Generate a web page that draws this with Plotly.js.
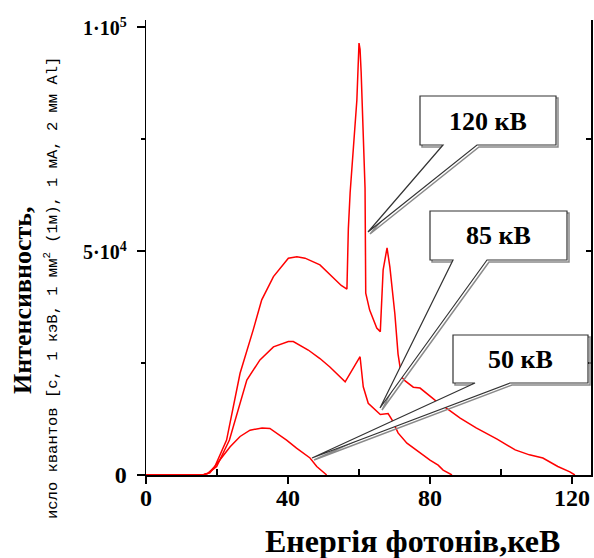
<!DOCTYPE html>
<html>
<head>
<meta charset="utf-8">
<script src="https://cdn.plot.ly/plotly-3.0.1.min.js"></script>
<style>html,body{margin:0;padding:0;background:#fff;}#chart{width:594px;height:558px;}</style>
</head>
<body>
<div id="chart"></div>
<script>
// ---- data (energy keV, intensity in thousands of quanta) ----
const e120 = [0, 16, 17.5, 19.4, 22.7, 26.5, 30.2, 32.6, 35.9, 40.1, 42.5, 44.8, 49, 52, 55, 56.6, 57, 57.5, 58.2, 58.9, 59.4, 60, 60.3, 60.6, 61.1, 61.7, 61.9, 63, 65, 66, 66.8, 67.9, 68.7, 70.1, 71, 72, 73, 75.3, 77.2, 81.4, 85, 88.5, 93, 98.9, 104, 108, 111.8, 116, 119.4, 120.8];
const i120 = [0, 0, 0.4, 1.9, 7.8, 22.7, 32.4, 39.1, 44.3, 48.4, 48.7, 48.4, 46.9, 44.5, 42.3, 41.5, 55, 63, 71, 77.7, 83.7, 96.4, 95, 90, 79, 64, 40.6, 36.8, 32.8, 32, 45.8, 50.7, 46.4, 36, 27, 21.9, 21, 19.6, 19.4, 16.7, 14.7, 12.7, 10.5, 8.0, 5.6, 4.5, 3.8, 1.9, 0.7, 0];
const e85 = [0, 16, 17.5, 19.9, 23.5, 28.4, 32.1, 35.9, 40.1, 41.5, 45.7, 49, 51.8, 56.1, 60.3, 61.2, 62.6, 66, 68.2, 69.3, 71, 73.5, 78, 80, 82.3, 83.7, 86.2];
const i85 = [0, 0, 0.4, 1.9, 7.8, 21.2, 25.7, 28.6, 29.8, 29.8, 27.9, 26, 24.1, 20.8, 26.4, 19.7, 16, 13.5, 13.7, 12.3, 9.4, 7.1, 4.5, 3.3, 2.2, 1.1, 0];
const e50 = [0, 16, 18, 19.9, 23.7, 26.5, 29.3, 32.7, 34.9, 39.6, 42.4, 46.2, 48.1, 50.9];
const i50 = [0, 0, 0.5, 2.5, 6.3, 8.6, 10, 10.5, 10.4, 7.8, 6, 3.8, 1.9, 0];
const seriesLabels = ['120 кВ', '85 кВ', '50 кВ'];
const xTickVals = [0, 40, 80, 120];
const yTickVals = [0, 50000, 100000];
const yTickText = ['0', '<span style="font-size:20px">5·10<sup>4</sup></span>', '<span style="font-size:20px">1·10<sup>5</sup></span>'];
const xTitle = 'Енергія фотонів,кеВ';
const yTitle1 = 'Интенсивность,';
const yTitle2 = 'исло квантов [с, 1 кэВ, 1 мм<sup>2</sup> (1м), 1 мА, 2 мм Al]';

const k = v => v.map(a => a * 1000);
const red = {color: '#ff0000', width: 1.5};
const traces = [
  {x: e120, y: k(i120), mode: 'lines', line: red, hoverinfo: 'skip'},
  {x: e85, y: k(i85), mode: 'lines', line: red, hoverinfo: 'skip'},
  {x: e50, y: k(i50), mode: 'lines', line: red, hoverinfo: 'skip'},
  {x: [], y: [], yaxis: 'y2', mode: 'lines', hoverinfo: 'skip'}
];

// pixel -> paper helpers for decorations
const L = 146, R = 591, T = 20, B = 475;
const px = p => (p - L) / (R - L);
const py = p => (B - p) / (B - T);

function callout(l, t, r, b, bl, br, tx, ty, dx, dy) {
  const pts = [[l, t], [r, t], [r, b], [br, b], [tx, ty], [bl, b], [l, b]];
  return 'M' + pts.map(q => px(q[0] + dx).toFixed(5) + ',' + py(q[1] + dy).toFixed(5)).join('L') + 'Z';
}
const boxes = [
  {l: 420, t: 96, r: 556, b: 145, bl: 443, br: 477, tx: 368, ty: 232, cx: 488, cy: 121},
  {l: 430, t: 211, r: 567, b: 260, bl: 453, br: 487, tx: 380, ty: 408, cx: 498, cy: 235},
  {l: 453, t: 335, r: 588, b: 383, bl: 475, br: 510, tx: 312, ty: 458, cx: 520, cy: 359}
];
const shapes = [];
const annotations = [];
const ctr = {showarrow: false, xanchor: 'center', yanchor: 'middle', xref: 'paper', yref: 'paper'};
boxes.forEach((bx, i) => {
  shapes.push({type: 'path', xref: 'paper', yref: 'paper', path: callout(bx.l, bx.t, bx.r, bx.b, bx.bl, bx.br, bx.tx, bx.ty, 2, 2), line: {color: '#8a8a8a', width: 1.5}, fillcolor: 'rgba(0,0,0,0)'});
  shapes.push({type: 'path', xref: 'paper', yref: 'paper', path: callout(bx.l, bx.t, bx.r, bx.b, bx.bl, bx.br, bx.tx, bx.ty, 0, 0), line: {color: '#333', width: 1.2}, fillcolor: '#ffffff'});
  annotations.push(Object.assign({x: px(bx.cx), y: py(bx.cy), text: seriesLabels[i],
    font: {family: 'Liberation Serif, serif', size: 26, weight: 'bold', color: '#000'}}, ctr));
});
annotations.push(Object.assign({x: px(412), y: py(541), text: xTitle,
  font: {family: 'Liberation Serif, serif', size: 32, weight: 'bold', color: '#000'}}, ctr));
annotations.push(Object.assign({x: px(22), y: py(300), text: yTitle1, textangle: -90,
  font: {family: 'Liberation Serif, serif', size: 26, weight: 'bold', color: '#000'}}, ctr));
annotations.push(Object.assign({x: px(51), y: py(288), text: yTitle2, textangle: -90,
  font: {family: 'Liberation Mono, monospace', size: 15.5, color: '#000'}}, ctr));

const layout = {
  width: 594, height: 558,
  margin: {l: L, r: 594 - R, t: T, b: 558 - B, pad: 0},
  paper_bgcolor: '#fff', plot_bgcolor: '#fff',
  showlegend: false,
  xaxis: {range: [0, (R - L) / 3.55], tickvals: xTickVals, ticktext: xTickVals.map(String),
    ticks: 'outside', ticklen: 7, tickwidth: 1.5, tickcolor: '#000', ticklabelstandoff: -6,
    minor: {tickvals: [20, 60, 100], ticks: 'inside', ticklen: 6, tickwidth: 1.5, tickcolor: '#000'},
    showline: true, linecolor: '#000', linewidth: 1.5, showgrid: false, zeroline: false,
    tickfont: {family: 'Liberation Serif, serif', size: 24, weight: 'bold', color: '#000'}},
  yaxis: {range: [0, (B - T) / 4.48 * 1000], tickvals: yTickVals, ticktext: yTickText,
    ticks: 'outside', ticklen: 8, tickwidth: 1.5, tickcolor: '#000', ticklabelstandoff: 5,
    minor: {tickvals: [25000, 75000], ticks: 'outside', ticklen: 4, tickwidth: 1.5, tickcolor: '#000'},
    showline: true, linecolor: '#000', linewidth: 1.5, showgrid: false, zeroline: false,
    tickfont: {family: 'Liberation Serif, serif', size: 24, weight: 'bold', color: '#000'}},
  yaxis2: {overlaying: 'y', side: 'right', range: [0, (B - T) / 4.48 * 1000],
    tickvals: [25000, 50000, 75000], ticks: 'inside', ticklen: 5, tickwidth: 1.5, tickcolor: '#000',
    showticklabels: false, showline: true, linecolor: '#000', linewidth: 1.5, showgrid: false, zeroline: false},
  shapes: shapes,
  annotations: annotations
};
Plotly.newPlot('chart', traces, layout, {staticPlot: true, displayModeBar: false});
</script>
</body>
</html>
